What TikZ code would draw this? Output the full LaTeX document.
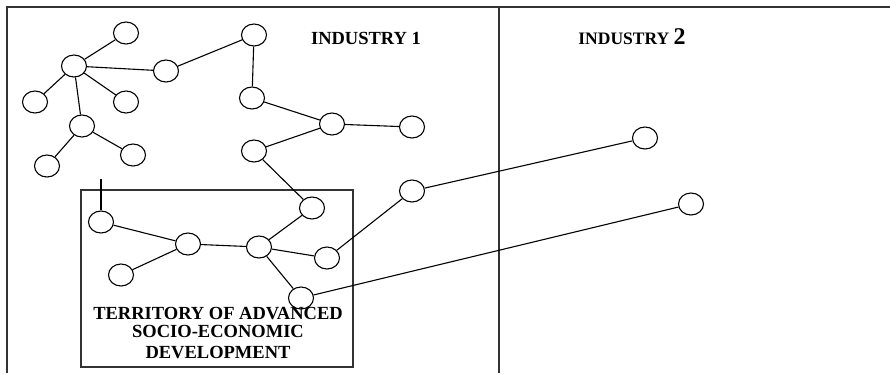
\documentclass[tikz,border=0pt]{standalone}
\usepackage{fontspec}
\setmainfont{Liberation Serif}
\usetikzlibrary{shapes.geometric}

\begin{document}
\begin{tikzpicture}[
        x=1pt, y=-1pt,
        firm/.style={ellipse, draw=black, line width=1.1pt,
                     minimum width=25pt, minimum height=22pt, inner sep=0pt},
        link/.style={line width=1.1pt, black},
        frame/.style={line width=1.4pt, black!80},
        head/.style={font=\fontsize{18.5}{20}\selectfont\bfseries, inner sep=0pt,
                     anchor=base},
    ]
    \useasboundingbox (0,0) rectangle (890,373);
    % frame of the two industries
    \draw[frame] (7,373) -- (7,7) -- (890,7);
    \draw[frame] (499,7) -- (499,373);
    \node[head] (ind1) at (366,44) {INDUSTRY 1};
    \node[head, font=\fontsize{17.5}{20}\selectfont\bfseries] (ind2) at (632,44)
        {INDUSTRY {\fontsize{24}{26}\selectfont 2}};
    % territory
    \draw[frame] (81,190) rectangle (353,367);
    \node[font=\fontsize{18.5}{18}\selectfont\bfseries, align=center, inner sep=0pt,
          anchor=base] (tor) at (218,358)
        {TERRITORY OF ADVANCED\\ SOCIO-ECONOMIC\\[3pt] DEVELOPMENT};
    % firms of industry 1
    \node[firm] (n1) at (126,33) {};
    \node[firm] (n2) at (74,66) {};
    \node[firm] (n3) at (166,71) {};
    \node[firm] (n4) at (254,35) {};
    \node[firm] (n5) at (35,102) {};
    \node[firm] (n6) at (126,102) {};
    \node[firm] (n7) at (82,126) {};
    \node[firm] (n8) at (47,166) {};
    \node[firm] (n9) at (133,155) {};
    \node[firm] (n10) at (252,98) {};
    \node[firm] (n11) at (332,124) {};
    \node[firm] (n12) at (412,127) {};
    \node[firm] (n13) at (254,151) {};
    \node[firm] (c1) at (412,191) {};
    % firms inside the territory
    \node[firm] (b1) at (101,222) {};
    \node[firm] (b2) at (188,244) {};
    \node[firm] (b3) at (121,275) {};
    \node[firm] (b4) at (259,247) {};
    \node[firm] (b5) at (312,208) {};
    \node[firm] (b6) at (327,258) {};
    \node[firm] (b7) at (301,298) {};
    % firms of industry 2
    \node[firm] (r1) at (645,138) {};
    \node[firm] (r2) at (691,204) {};
    \coordinate (stub) at (101,179);
    \draw[link] (n2) -- (n1);
    \draw[link] (n2) -- (n3);
    \draw[link] (n3) -- (n4);
    \draw[link] (n2) -- (n5);
    \draw[link] (n2) -- (n6);
    \draw[link] (n2) -- (n7);
    \draw[link] (n7) -- (n8);
    \draw[link] (n7) -- (n9);
    \draw[link] (n4) -- (n10);
    \draw[link] (n10) -- (n11);
    \draw[link] (n11) -- (n12);
    \draw[link] (n11) -- (n13);
    \draw[link] (n13) -- (b5);
    \draw[link] (stub) -- (b1);
    \draw[link] (b1) -- (b2);
    \draw[link] (b3) -- (b2);
    \draw[link] (b2) -- (b4);
    \draw[link] (b4) -- (b5);
    \draw[link] (b4) -- (b6);
    \draw[link] (b4) -- (b7);
    \draw[link] (b6) -- (c1);
    \draw[link] (c1) -- (r1);
    \draw[link] (b7) -- (r2);
\end{tikzpicture}
\end{document}
